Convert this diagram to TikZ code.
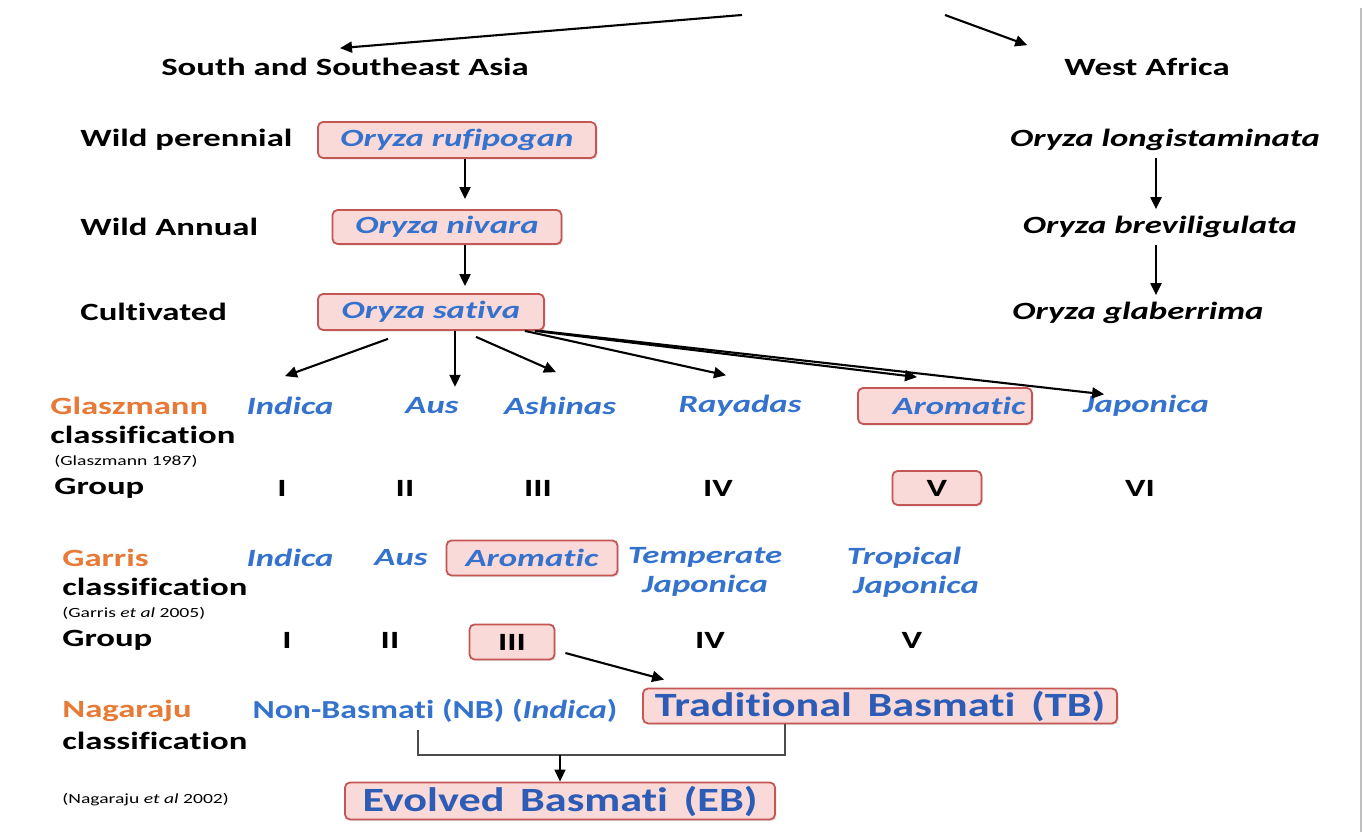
\documentclass[tikz,border=0pt]{standalone}
\usepackage{fontspec}
\setmainfont{Carlito}[FakeStretch=1.4, Ligatures=NoCommon]
\newfontfamily\basfamily{Carlito}[FakeStretch=1.3, Ligatures=NoCommon]
\usetikzlibrary{arrows.meta}
\usetikzlibrary{calc}
\usetikzlibrary{shadows}
\definecolor{riceblue}{RGB}{52,114,206}
\definecolor{deepblue}{RGB}{44,92,182}
\definecolor{accent}{RGB}{230,122,54}
\definecolor{boxline}{RGB}{196,86,84}
\definecolor{boxfill}{RGB}{249,218,216}
\newcommand{\labfont}{\bfseries\fontsize{12.4}{14.5}\selectfont}
\newcommand{\notefont}{\fontsize{7}{8.5}\selectfont}
\newcommand{\basfont}{\basfamily\bfseries\fontsize{17}{19}\selectfont}

\begin{document}
\begin{tikzpicture}[x=0.5pt, y=-0.5pt,
	arr/.style={line width=1.05pt, -{Triangle[length=6pt,width=5.5pt]}},
	pbox/.style={draw=boxline, line width=0.9pt, fill=boxfill, rounded corners=2.5pt, inner sep=0pt,
		drop shadow={shadow xshift=0.8pt, shadow yshift=-0.8pt, opacity=0.2}}]
	\fill[white] (0,0) rectangle (1367,832);
	\draw[black!25, line width=0.8pt] (1361,8) -- (1361,832);

	\begin{scope}[every node/.style={font=\labfont}]
		\node (asia) at (345,67) {South and Southeast Asia};
		\node (afr) at (1147,67) {West Africa};
	\end{scope}
	\begin{scope}[every node/.style={font=\labfont, anchor=west, inner sep=0pt}]
		\node (wp) at (80,140) {Wild perennial};
		\node (wa) at (80,227) {Wild Annual};
		\node (cv) at (80,312) {Cultivated};
		\node (gc) at (50,435) {classification};
		\node (gg) at (54,488) {Group};
		\node (rc) at (62,587) {classification};
		\node (rg) at (62,640) {Group};
		\node (nc) at (62,741) {classification};
		\node[text=accent] (gn) at (50,406) {Glaszmann};
		\node[text=accent] (rn) at (62,558) {Garris};
		\node[text=accent] (nn) at (62,711) {Nagaraju};
	\end{scope}
	\begin{scope}[every node/.style={font=\notefont, anchor=west, inner sep=0pt}]
		\node (gr) at (54,461) {(Glaszmann 1987)};
		\node (rr) at (62,613) {(Garris \textit{et al} 2005)};
		\node (nr) at (62,800) {(Nagaraju \textit{et al} 2002)};
	\end{scope}

	\begin{scope}[every node/.style={font=\labfont\itshape, text=riceblue}]
		\node[pbox, minimum width=139pt, minimum height=18pt] (ruf) at (457,140) {Oryza rufipogan};
		\node[pbox, minimum width=114.5pt, minimum height=17pt] (niv) at (447,227) {Oryza nivara};
		\node[pbox, minimum width=113pt, minimum height=18pt] (sat) at (431,312) {Oryza sativa};
		\node (g1) at (290,406) {Indica};
		\node (g2) at (432,406) {Aus};
		\node (g3) at (560,406) {Ashinas};
		\node (g4) at (740,406) {Rayadas};
		\node[pbox, minimum width=87pt, minimum height=18pt] (g5) at (945,406) {\hspace{14pt}Aromatic};
		\node (g6) at (1146,406) {Japonica};
		\node (r1) at (290,558) {Indica};
		\node (r2) at (401,558) {Aus};
		\node[pbox, minimum width=85.5pt, minimum height=17.5pt] (r3) at (532,558) {Aromatic};
		\node[align=center] (r4) at (705,572) {Temperate\\Japonica};
		\node[align=center] (r5) at (904,572) {Tropical\\\hspace{12pt}Japonica};
	\end{scope}
	\begin{scope}[every node/.style={font=\labfont\itshape}]
		\node (lon) at (1165,140) {Oryza longistaminata};
		\node (bre) at (1160,227) {Oryza breviligulata};
		\node (gla) at (1138,313) {Oryza glaberrima};
	\end{scope}

	\begin{scope}[every node/.style={font=\labfont}]
		\node (n1) at (282,488) {I};
		\node (n2) at (405,488) {II};
		\node (n3) at (538,488) {III};
		\node (n4) at (718,488) {IV};
		\node[pbox, minimum width=44.5pt, minimum height=17pt] (n5) at (937,488) {V};
		\node (n6) at (1140,488) {VI};
		\node (m1) at (287,640) {I};
		\node (m2) at (390,640) {II};
		\node[pbox, minimum width=42.5pt, minimum height=17.5pt] (m3) at (512,642) {III};
		\node (m4) at (710,640) {IV};
		\node (m5) at (912,640) {V};
	\end{scope}

	\node[font=\basfamily\bfseries\fontsize{13}{15}\selectfont, text=riceblue] (nb) at (435,711) {Non-Basmati (NB) (\textit{Indica})};
	\node[pbox, font=\basfont, text=deepblue, minimum width=237pt, minimum height=17.5pt] (tb) at (880,706) {Traditional\, Basmati\, (TB)};
	\node[pbox, font=\basfont, text=deepblue, minimum width=215pt, minimum height=18.5pt] (eb) at (560,801) {Evolved\, Basmati\, (EB)};

	\coordinate (tl) at (742,15);
	\coordinate (tr) at (945,15);
	\coordinate (ax) at (465,0);
	\coordinate (bx) at (1156,0);
	\coordinate (jl) at (418,755);
	\coordinate (jm) at (560,755);
	\coordinate (jr) at (785,755);

	\draw[arr] (tl) -- ($(asia.north)+(-5,-3)$);
	\draw[arr] (tr) -- ($(afr.north west)+(-30,-6)$);
	\draw[arr, shorten >=5pt] (ruf.south -| ax) -- (niv.north -| ax);
	\draw[arr, shorten >=3.5pt] (niv.south -| ax) -- (sat.north -| ax);
	\draw[arr] (lon.south -| bx) -- (bre.north -| bx);
	\draw[arr] (bre.south -| bx) -- (gla.north -| bx);

	\draw[arr] ($(sat.south)+(-43,8)$) -- ($(g1.north)+(-5,-14)$);
	\draw[arr] ($(sat.south)+(24,0)$) -- ($(g2.north)+(23,-4)$);
	\draw[arr] ($(sat.south)+(45,6)$) -- ($(g3.north)+(-4,-18)$);
	\draw[arr] ($(sat.south east)+(-20,0)$) -- ($(g4.north)+(-14,-13)$);
	\draw[arr] ($(sat.south east)+(-10,0)$) -- ($(g5.north)+(-28,-10)$);
	\draw[arr] ($(sat.south east)+(-5,0)$) -- ($(g6.north west)+(28,6)$);

	\draw[arr] ($(m3.east)+(10,11)$) -- ($(tb.north west)+(22,-8)$);
	\draw[black!70, line width=0.7pt] (jl |- nb.south) -- (jl) -- (jr) -- (jr |- tb.south);
	\draw[arr, line width=0.7pt] (jm) -- (jm |- eb.north);
\end{tikzpicture}
\end{document}
